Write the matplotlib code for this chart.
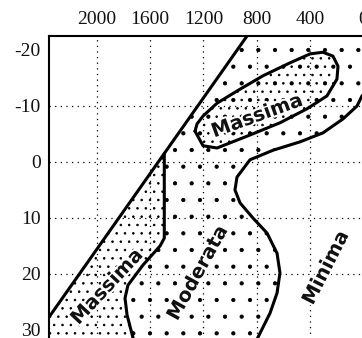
import matplotlib.pyplot as plt
import matplotlib.patheffects as pe

plt.rcParams['axes.unicode_minus'] = False
plt.rcParams['hatch.linewidth'] = 0.6

# assi
x_ticks = [2000, 1600, 1200, 800, 400, 0]
y_ticks = [-20, -10, 0, 10, 20, 30]
x_grid = [2000, 1600, 1200, 800, 400]
y_grid = [-10, 0, 10, 20]

# linea diagonale (limite della zona)
line_x = [2517, 828]
line_y = [33.0, -24.0]

# confine destro della zona "Massima" in basso (parte dalla diagonale)
mass_low_x = [1494, 1494, 1526, 1654, 1767, 1789, 1774, 1729, 1706]
mass_low_y = [-1.5, 13.6, 15.0, 18.4, 22.0, 24.3, 27.3, 31.4, 32.7]

# contorno chiuso della zona "Massima" in alto
ell_x = [1263, 1203, 1098, 873, 625, 422, 272, 197, 189, 227, 302, 399,
         550, 752, 925, 1098, 1203, 1248, 1263]
ell_y = [-5.5, -2.9, -2.5, -4.6, -7.0, -9.5, -11.8, -14.8, -17.1, -18.9,
         -19.6, -19.3, -17.7, -15.4, -13.0, -10.5, -8.2, -6.8, -5.5]

# confine tra "Moderata" e "Minima"
mod_x = [-51, 9, 46, 151, 302, 474, 677, 850, 948, 963, 925, 828, 722,
         647, 625, 647, 700, 790, 820]
mod_y = [-13.2, -11.8, -10.0, -7.7, -5.2, -3.6, -2.1, -0.4, 2.7, 5.0, 7.3,
         10.0, 12.7, 16.3, 19.8, 23.4, 27.0, 31.3, 32.7]

# etichette: testo, x, y, rotazione
labels = [
    ("Massima", 797, -8.2, 20),
    ("Massima", 1924, 22.3, 47),
    ("Moderata", 1241, 19.8, 61),
    ("Minima", 279, 18.9, 63),
]

fig = plt.figure(figsize=(3.62, 3.38), dpi=100)
ax = fig.add_axes([0.1354, -0.026, 0.9046, 0.9195])
ax.set_xlim(2360, -100)
ax.set_ylim(33, -22.5)

# griglia punteggiata (solo linee interne)
grid_kw = dict(color='black', linestyle=(0, (1, 3.5)), linewidth=0.9,
               zorder=1)
for gx in x_grid:
    ax.axvline(gx, **grid_kw)
for gy in y_grid:
    ax.axhline(gy, **grid_kw)

# zona moderata: tra il confine massima, la diagonale e il confine minima
y_top, y_bot = line_y[1], line_y[0]
mod_poly_x = mass_low_x[::-1] + [line_x[1], mod_x[0]] + mod_x
mod_poly_y = mass_low_y[::-1] + [y_top, y_top] + mod_y
ax.fill(mod_poly_x, mod_poly_y, facecolor='none', edgecolor='black',
        linewidth=0, hatch='.', zorder=2)

# zona massima in basso
low_poly_x = [mass_low_x[0], line_x[0]] + mass_low_x[::-1]
low_poly_y = [mass_low_y[0], y_bot] + mass_low_y[::-1]
ax.fill(low_poly_x, low_poly_y, facecolor='none', edgecolor='black',
        linewidth=0, hatch='..', zorder=2)

# zona massima in alto
ax.fill(ell_x, ell_y, facecolor='none', edgecolor='black',
        linewidth=0, hatch='..', zorder=2)

line_kw = dict(color='black', linewidth=2.2, solid_joinstyle='round',
               solid_capstyle='round', zorder=3)
ax.plot(line_x, line_y, **line_kw)
ax.plot(mass_low_x, mass_low_y, **line_kw)
ax.plot(ell_x, ell_y, **line_kw)
ax.plot(mod_x, mod_y, **line_kw)

for text, x, y, rot in labels:
    ax.text(x, y, text, rotation=rot, rotation_mode='anchor',
            ha='center', va='center', fontsize=14, fontweight='bold',
            family='DejaVu Sans', color='#111111', zorder=4,
            path_effects=[pe.withStroke(linewidth=3, foreground='white')])

ax.set_xticks(x_ticks)
ax.set_yticks(y_ticks)
ax.xaxis.tick_top()
ax.tick_params(length=0, pad=6, labelsize=14)
for lab in ax.get_xticklabels() + ax.get_yticklabels():
    lab.set_family('Liberation Serif')
    lab.set_color('#111111')

for side in ['right', 'bottom']:
    ax.spines[side].set_visible(False)
for side in ['left', 'top']:
    ax.spines[side].set_linewidth(1.5)

fig.savefig('out.png', dpi=100)
